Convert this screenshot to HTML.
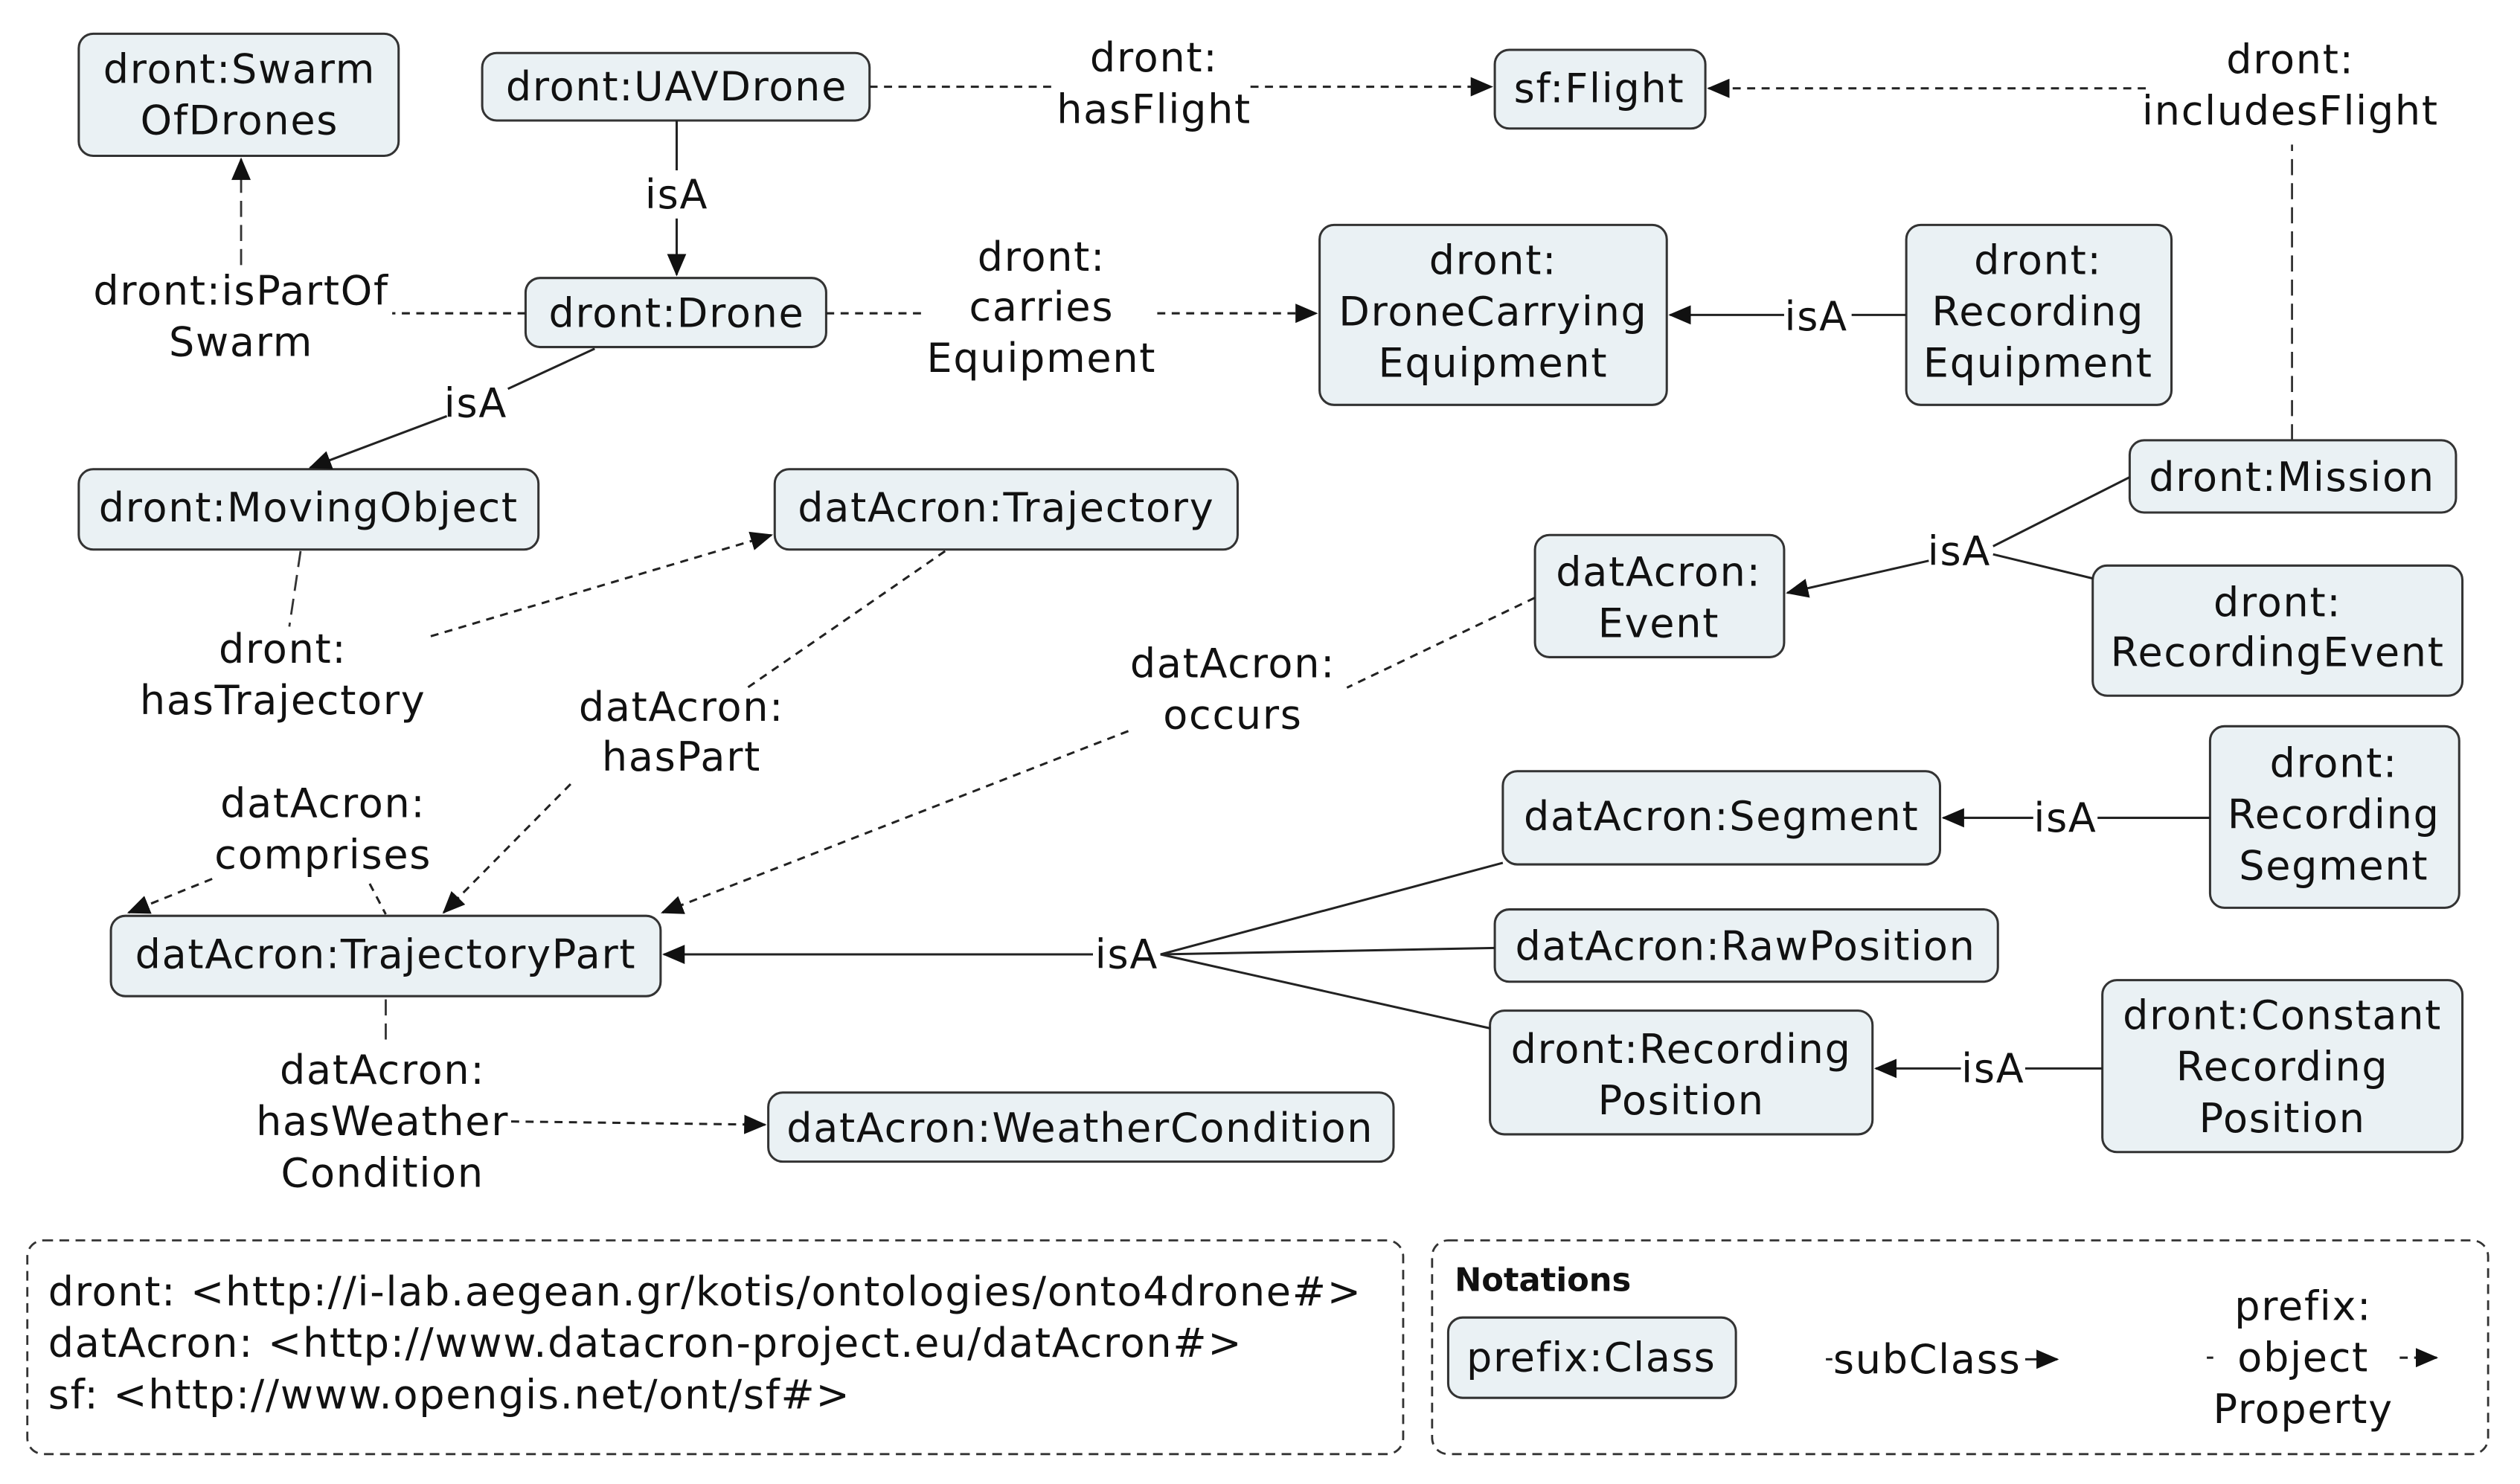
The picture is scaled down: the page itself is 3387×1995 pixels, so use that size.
<!DOCTYPE html>
<html><head><meta charset="utf-8"><style>
html,body{margin:0;padding:0;background:#fff}
svg{display:block}
text{font-family:"DejaVu Sans","Liberation Sans",sans-serif;font-size:25px;letter-spacing:0.8px;fill:#111;text-anchor:middle;dominant-baseline:central}
.b{fill:#eaf1f4;stroke:#333;stroke-width:1.4}
.s{stroke:#222;stroke-width:1.4;fill:none}
.d{stroke:#222;stroke-width:1.4;fill:none;stroke-dasharray:5,4}
.l{stroke:#333;stroke-width:1.3;fill:none;stroke-dasharray:10,5}
</style></head><body>
<svg width="3387" height="1995" viewBox="0 0 1560 919" preserveAspectRatio="none" xmlns="http://www.w3.org/2000/svg">
<defs><marker id="a" markerWidth="14" markerHeight="12" refX="13" refY="6" orient="auto" markerUnits="userSpaceOnUse"><path d="M0,0 L14,6 L0,12 Z" fill="#111"/></marker></defs>
<g transform="scale(0.995)">
<!-- boxes -->
<rect class="b" x="49" y="21" width="199" height="76" rx="9"/><text x="149" y="43">dront:Swarm</text><text x="149" y="75">OfDrones</text>
<rect class="b" x="300" y="33" width="241" height="42" rx="9"/><text x="421" y="54">dront:UAVDrone</text>
<rect class="b" x="930" y="31" width="131" height="49" rx="9"/><text x="995" y="55">sf:Flight</text>
<rect class="b" x="327" y="173" width="187" height="43" rx="9"/><text x="421" y="195">dront:Drone</text>
<rect class="b" x="821" y="140" width="216" height="112" rx="9"/><text x="929" y="162">dront:</text><text x="929" y="194">DroneCarrying</text><text x="929" y="226">Equipment</text>
<rect class="b" x="1186" y="140" width="165" height="112" rx="9"/><text x="1268" y="162">dront:</text><text x="1268" y="194">Recording</text><text x="1268" y="226">Equipment</text>
<rect class="b" x="49" y="292" width="286" height="50" rx="9"/><text x="192" y="316">dront:MovingObject</text>
<rect class="b" x="482" y="292" width="288" height="50" rx="9"/><text x="626" y="316">datAcron:Trajectory</text>
<rect class="b" x="1325" y="274" width="203" height="45" rx="9"/><text x="1426" y="297">dront:Mission</text>
<rect class="b" x="955" y="333" width="155" height="76" rx="9"/><text x="1032" y="356">datAcron:</text><text x="1032" y="388">Event</text>
<rect class="b" x="1302" y="352" width="230" height="81" rx="9"/><text x="1417" y="375">dront:</text><text x="1417" y="406">RecordingEvent</text>
<rect class="b" x="935" y="480" width="272" height="58" rx="9"/><text x="1071" y="508">datAcron:Segment</text>
<rect class="b" x="1375" y="452" width="155" height="113" rx="9"/><text x="1452" y="475">dront:</text><text x="1452" y="507">Recording</text><text x="1452" y="539">Segment</text>
<rect class="b" x="930" y="566" width="313" height="45" rx="9"/><text x="1086" y="589">datAcron:RawPosition</text>
<rect class="b" x="69" y="570" width="342" height="50" rx="9"/><text x="240" y="594">datAcron:TrajectoryPart</text>
<rect class="b" x="927" y="629" width="238" height="77" rx="9"/><text x="1046" y="653">dront:Recording</text><text x="1046" y="685">Position</text>
<rect class="b" x="1308" y="610" width="224" height="107" rx="9"/><text x="1420" y="632">dront:Constant</text><text x="1420" y="664">Recording</text><text x="1420" y="696">Position</text>
<rect class="b" x="478" y="680" width="389" height="43" rx="9"/><text x="672" y="702">datAcron:WeatherCondition</text>

<line class="d" x1="541" y1="54" x2="658" y2="54"/><text x="718" y="36">dront:</text><text x="718" y="68">hasFlight</text>
<line class="d" x1="778" y1="54" x2="928" y2="54" marker-end="url(#a)"/>
<line class="l" x1="1426" y1="274" x2="1426" y2="90"/><text x="1425" y="37">dront:</text><text x="1425" y="69">includesFlight</text>
<line class="d" x1="1335" y1="55" x2="1063" y2="55" marker-end="url(#a)"/>
<line class="s" x1="421" y1="75" x2="421" y2="106"/><text x="421" y="121">isA</text>
<line class="s" x1="421" y1="136" x2="421" y2="171" marker-end="url(#a)"/>
<line class="d" x1="327" y1="195" x2="244" y2="195"/><text x="150" y="181">dront:isPartOf</text><text x="150" y="213">Swarm</text>
<line class="l" x1="150" y1="165" x2="150" y2="99" marker-end="url(#a)"/>
<line class="d" x1="514" y1="195" x2="575" y2="195"/><text x="648" y="160">dront:</text><text x="648" y="191">carries</text><text x="648" y="223">Equipment</text>
<line class="d" x1="720" y1="195" x2="819" y2="195" marker-end="url(#a)"/>
<line class="s" x1="1186" y1="196" x2="1152" y2="196"/><text x="1130" y="197">isA</text>
<line class="s" x1="1110" y1="196" x2="1039" y2="196" marker-end="url(#a)"/>
<line class="s" x1="370" y1="217" x2="316" y2="242"/><text x="296" y="251">isA</text>
<line class="s" x1="278" y1="259" x2="193" y2="291" marker-end="url(#a)"/>
<line class="l" x1="187" y1="343" x2="180" y2="390"/><text x="176" y="404">dront:</text><text x="176" y="436">hasTrajectory</text>
<line class="d" x1="268" y1="396" x2="480" y2="333" marker-end="url(#a)"/>
<line class="d" x1="588" y1="343" x2="465" y2="428"/><text x="424" y="440">datAcron:</text><text x="424" y="471">hasPart</text>
<line class="d" x1="355" y1="488" x2="276" y2="568" marker-end="url(#a)"/>
<line class="d" x1="955" y1="372" x2="838" y2="428"/><text x="767" y="413">datAcron:</text><text x="767" y="445">occurs</text>
<line class="d" x1="702" y1="455" x2="412" y2="568" marker-end="url(#a)"/>
<text x="201" y="500">datAcron:</text><text x="201" y="532">comprises</text>
<line class="d" x1="132" y1="547" x2="80" y2="568" marker-end="url(#a)"/>
<line class="d" x1="230" y1="550" x2="240" y2="569"/>
<line class="s" x1="1325" y1="297" x2="1240" y2="340"/>
<line class="s" x1="1302" y1="360" x2="1240" y2="345"/>
<text x="1219" y="343">isA</text>
<line class="s" x1="1200" y1="349" x2="1112" y2="369" marker-end="url(#a)"/>
<line class="s" x1="1375" y1="509" x2="1305" y2="509"/><text x="1285" y="509">isA</text>
<line class="s" x1="1265" y1="509" x2="1209" y2="509" marker-end="url(#a)"/>
<text x="701" y="594">isA</text>
<line class="s" x1="722" y1="594" x2="935" y2="537"/>
<line class="s" x1="722" y1="594" x2="930" y2="590"/>
<line class="s" x1="722" y1="594" x2="927" y2="640"/>
<line class="s" x1="680" y1="594" x2="413" y2="594" marker-end="url(#a)"/>
<line class="s" x1="1308" y1="665" x2="1260" y2="665"/><text x="1240" y="665">isA</text>
<line class="s" x1="1220" y1="665" x2="1167" y2="665" marker-end="url(#a)"/>
<line class="l" x1="240" y1="622" x2="240" y2="650"/><text x="238" y="666">datAcron:</text><text x="238" y="698">hasWeather</text><text x="238" y="730">Condition</text>
<line class="d" x1="318" y1="698" x2="476" y2="700" marker-end="url(#a)"/>

<rect x="17" y="772" width="856" height="133" rx="10" fill="none" stroke="#333" stroke-width="1.3" stroke-dasharray="6,4"/>
<text x="30" y="804" style="text-anchor:start">dront: &lt;http://i-lab.aegean.gr/kotis/ontologies/onto4drone#&gt;</text>
<text x="30" y="836" style="text-anchor:start">datAcron: &lt;http://www.datacron-project.eu/datAcron#&gt;</text>
<text x="30" y="868" style="text-anchor:start">sf: &lt;http://www.opengis.net/ont/sf#&gt;</text>
<rect x="891" y="772" width="657" height="133" rx="10" fill="none" stroke="#333" stroke-width="1.3" stroke-dasharray="6,4"/>
<text x="905" y="797" style="text-anchor:start;font-weight:bold;font-size:20px;letter-spacing:0">Notations</text>
<rect class="b" x="901" y="820" width="179" height="50" rx="9"/><text x="990" y="845">prefix:Class</text>
<line class="s" x1="1136" y1="846" x2="1140" y2="846"/><text x="1199" y="846">subClass</text>
<line class="s" x1="1260" y1="846" x2="1280" y2="846" marker-end="url(#a)"/>
<text x="1433" y="813">prefix:</text><text x="1433" y="845">object</text><text x="1433" y="877">Property</text>
<line class="d" x1="1373" y1="845" x2="1377" y2="845"/>
<line class="d" x1="1493" y1="845" x2="1516" y2="845" marker-end="url(#a)"/>
</g>
</svg>
</body></html>
